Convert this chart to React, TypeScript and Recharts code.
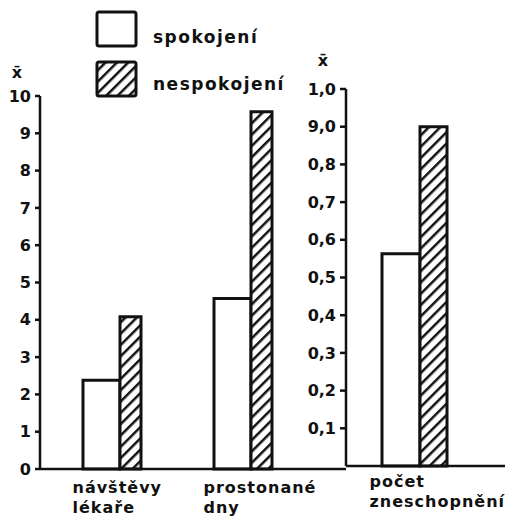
import React from "react";
import { Bar, BarChart, Legend, XAxis, YAxis } from "recharts";

// left panel (scale 0–10)
const leftCategories = ["návštěvy lékaře", "prostonané dny"];
const leftSpokojeni = [2.38, 4.57];
const leftNespokojeni = [4.08, 9.58];
const leftTicks = [0, 1, 2, 3, 4, 5, 6, 7, 8, 9, 10];

// right panel (scale 0–1)
const rightCategories = ["počet zneschopnění"];
const rightSpokojeni = [0.563];
const rightNespokojeni = [0.9];
const rightTicks = [0.1, 0.2, 0.3, 0.4, 0.5, 0.6, 0.7, 0.8, 0.9, 1.0];
const rightTickLabels = ["0,1", "0,2", "0,3", "0,4", "0,5", "0,6", "0,7", "0,8", "9,0", "1,0"];

const seriesOrder = ["spokojeni", "nespokojeni"];
const seriesNames = { spokojeni: "spokojení", nespokojeni: "nespokojení" };

const leftData = leftCategories.map((name, i) => ({
  name,
  spokojeni: leftSpokojeni[i],
  nespokojeni: leftNespokojeni[i],
}));
const rightData = rightCategories.map((name, i) => ({
  name,
  spokojeni: rightSpokojeni[i],
  nespokojeni: rightNespokojeni[i],
}));

const FONT = "'DejaVu Sans', sans-serif";
const INK = "#111";

const categoryTick = (dx: number, dy1: number, dy2: number) => (props: any) => {
  const { x, y, payload } = props;
  const lines = String(payload.value).split(" ");
  return (
    <g>
      {lines.map((line, i) => (
        <text
          key={i}
          x={x + dx}
          y={y + (i === 0 ? dy1 : dy2)}
          fontFamily={FONT}
          fontWeight="bold"
          fontSize={16}
          letterSpacing={1}
          fill={INK}
        >
          {line}
        </text>
      ))}
    </g>
  );
};

const xBarLabel = (dy: number) => (props: any) => {
  const vb = props.viewBox;
  return (
    <text
      x={vb.x + 17}
      y={vb.y - dy}
      textAnchor="middle"
      fontFamily={FONT}
      fontWeight="bold"
      fontSize={16}
      fill={INK}
    >
      x̄
    </text>
  );
};

function LegendContent({ payload }: any) {
  const items = [...(payload || [])].sort(
    (a: any, b: any) => seriesOrder.indexOf(a.dataKey) - seriesOrder.indexOf(b.dataKey)
  );
  return (
    <div style={{ fontFamily: FONT, fontWeight: "bold", fontSize: 17, letterSpacing: 1.5, color: INK }}>
      {items.map((entry: any, i: number) => (
        <div key={i} style={{ display: "flex", alignItems: "flex-start", height: 50 }}>
          <svg width={44} height={38} style={{ display: "block" }}>
            <rect
              x={2}
              y={2}
              width={39}
              height={34}
              rx={2}
              fill={entry.dataKey === "nespokojeni" ? "url(#hatch)" : "#fff"}
              stroke={INK}
              strokeWidth={3}
            />
          </svg>
          <span style={{ marginLeft: 14, marginTop: i === 0 ? 17 : 14, lineHeight: "20px" }}>
            {entry.value}
          </span>
        </div>
      ))}
    </div>
  );
}

const axisProps = {
  stroke: INK,
  strokeWidth: 2.5,
  tick: { fill: INK, fontFamily: FONT, fontWeight: "bold", fontSize: 16 },
  tickLine: { stroke: INK, strokeWidth: 2.5 },
};

export default function App() {
  return (
    <div style={{ position: "relative", width: 508, height: 518, background: "#fff" }}>
      <style>{"body{margin:0}"}</style>
      <svg width={0} height={0} style={{ position: "absolute" }}>
        <defs>
          <pattern
            id="hatch"
            patternUnits="userSpaceOnUse"
            width={8}
            height={8}
            patternTransform="rotate(45)"
          >
            <rect width={8} height={8} fill="#fff" />
            <line x1={1.25} y1={0} x2={1.25} y2={8} stroke={INK} strokeWidth={2.5} />
          </pattern>
        </defs>
      </svg>

      <div style={{ position: "absolute", left: 0, top: 0 }}>
        <BarChart
          width={508}
          height={518}
          data={leftData}
          margin={{ top: 96, right: 162, bottom: 0, left: 0 }}
          barGap={0}
        >
          <XAxis
            dataKey="name"
            height={49}
            padding={{ left: 6, right: 38 }}
            stroke={INK}
            strokeWidth={2.5}
            tickLine={false}
            tickSize={0}
            tickMargin={0}
            tick={categoryTick(-39, 24, 44) as any}
            interval={0}
          />
          <YAxis
            width={40}
            domain={[0, 10]}
            ticks={leftTicks}
            interval={0}
            tickSize={5}
            tickMargin={4}
            {...axisProps}
            label={xBarLabel(18) as any}
          />
          <Legend
            layout="vertical"
            align="center"
            verticalAlign="middle"
            wrapperStyle={{ top: 10, left: 95, width: 220 }}
            content={<LegendContent />}
          />
          <Bar
            dataKey="spokojeni"
            name={seriesNames.spokojeni}
            barSize={37}
            fill="#fff"
            stroke={INK}
            strokeWidth={3}
            isAnimationActive={false}
          />
          <Bar
            dataKey="nespokojeni"
            name={seriesNames.nespokojeni}
            barSize={21}
            fill="url(#hatch)"
            stroke={INK}
            strokeWidth={3}
            isAnimationActive={false}
          />
        </BarChart>
      </div>

      <div style={{ position: "absolute", left: 0, top: 0 }}>
        <BarChart
          width={508}
          height={518}
          data={rightData}
          margin={{ top: 89, right: 3, bottom: 0, left: 306 }}
          barGap={0}
        >
          <XAxis
            dataKey="name"
            height={52}
            padding={{ left: 0, right: 22 }}
            stroke={INK}
            strokeWidth={2.5}
            tickLine={false}
            tickSize={0}
            tickMargin={0}
            tick={categoryTick(-45, 21, 41) as any}
            interval={0}
          />
          <YAxis
            width={40}
            domain={[0, 1]}
            ticks={rightTicks}
            interval={0}
            tickSize={6}
            tickMargin={4}
            tickFormatter={(v: number) => rightTickLabels[rightTicks.indexOf(v)] ?? ""}
            {...axisProps}
            label={xBarLabel(23) as any}
          />
          <Bar
            dataKey="spokojeni"
            name={seriesNames.spokojeni}
            barSize={38}
            fill="#fff"
            stroke={INK}
            strokeWidth={3}
            isAnimationActive={false}
          />
          <Bar
            dataKey="nespokojeni"
            name={seriesNames.nespokojeni}
            barSize={27}
            fill="url(#hatch)"
            stroke={INK}
            strokeWidth={3}
            isAnimationActive={false}
          />
        </BarChart>
      </div>
    </div>
  );
}
